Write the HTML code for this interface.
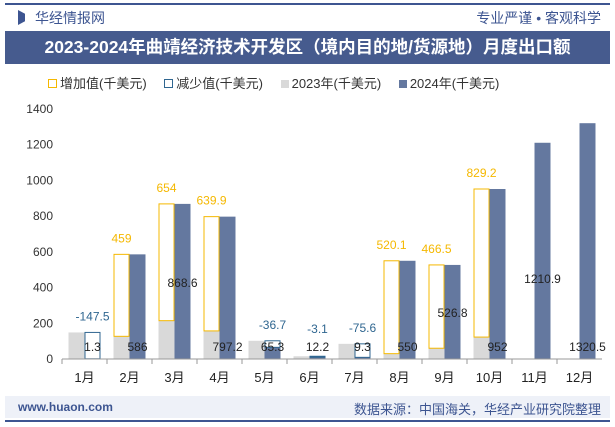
<!DOCTYPE html>
<html><head><meta charset="utf-8"><style>
body{margin:0;width:615px;height:427px;overflow:hidden;background:#fff;font-family:"Liberation Sans","Noto Sans CJK SC",sans-serif;position:relative}
.t{position:absolute;white-space:nowrap}
</style></head><body>
<div style="position:absolute;left:5px;top:3px;width:605px;height:2px;background:#3d5591"></div>
<div style="position:absolute;left:18px;top:10px;width:7px;height:15px;background:#3d5591;clip-path:polygon(0 0,100% 25%,100% 75%,0 100%)"></div>
<div class="t" style="left:35px;top:8px;font-size:14px;color:#3d5591">华经情报网</div>
<div class="t" style="right:14px;top:8px;font-size:14px;color:#3d5591">专业严谨 • 客观科学</div>
<div style="position:absolute;left:5px;top:31px;height:33px;width:605px;background:#465b8e"></div>
<div class="t" style="left:5px;top:31px;width:605px;height:33px;line-height:33px;text-align:center;color:#fff;font-weight:bold;font-size:17.5px">2023-2024年曲靖经济技术开发区（境内目的地/货源地）月度出口额</div>

<div class="t" style="left:48px;top:73px;font-size:13px;color:#333">
<span><span style="display:inline-block;width:7px;height:7px;border:1px solid #f5b800;margin-right:3px"></span>增加值(千美元)</span>
<span style="margin-left:14px"><span style="display:inline-block;width:7px;height:7px;border:1px solid #2f6690;margin-right:3px"></span>减少值(千美元)</span>
<span style="margin-left:14px"><span style="display:inline-block;width:8px;height:8px;background:#d9d9d9;margin-right:3px"></span>2023年(千美元)</span>
<span style="margin-left:14px"><span style="display:inline-block;width:8px;height:8px;background:#64789f;margin-right:3px"></span>2024年(千美元)</span>
</div>

<svg id="chart" width="615" height="427" style="position:absolute;left:0;top:0" font-family="Liberation Sans, Noto Sans CJK SC, sans-serif"></svg>

<div style="position:absolute;left:5px;top:396px;width:605px;height:22px;background:#eef1f8"></div>
<div class="t" style="left:18px;top:400px;font-size:12px;color:#3d5591;font-weight:bold">www.huaon.com</div>
<div class="t" style="right:14px;top:399px;font-size:13px;color:#3d5591">数据来源：中国海关，华经产业研究院整理</div>
<div style="position:absolute;left:5px;top:420px;width:605px;height:2px;background:#3d5591"></div>

<script>
const months=["1月","2月","3月","4月","5月","6月","7月","8月","9月","10月","11月","12月"];
const v2023=[148.8,127,214.6,157.3,102,15.3,84.9,29.9,60.3,122.8,0,0];
const v2024=[1.3,586,868.6,797.2,65.3,12.2,9.3,550,526.8,952,1210.9,1320.5];
const changes=[-147.5,459,654,639.9,-36.7,-3.1,-75.6,520.1,466.5,829.2,null,null];
const yTicks=[0,200,400,600,800,1000,1200,1400];
const labelY=[347,347,283,347,347,347,347,347,313,347,279,347];
const svg=document.getElementById('chart');
const NS='http://www.w3.org/2000/svg';
const x0=62,x1=602,y0=359,y1=109,ymax=1400;
const bw=(x1-x0)/months.length;
const Y=v=>y0-(v/ymax)*(y0-y1);
const C=i=>x0+bw*(i+0.5);
function mk(tag,attrs,txt){const e=document.createElementNS(NS,tag);for(const k in attrs)e.setAttribute(k,attrs[k]);if(txt!=null)e.textContent=txt;svg.appendChild(e);return e;}
yTicks.forEach(t=>{
  const e=mk('text',{x:53,y:Y(t)+4,'text-anchor':'end','font-size':12,fill:'#333'},t);
  
  
});
months.forEach((m,i)=>{
  const c=C(i);
  const g=mk('rect',{x:c-16,y:Y(v2023[i]),width:16,height:y0-Y(v2023[i]),fill:'#d9d9d9'});
  
  
  const b=mk('rect',{x:c,y:Y(v2024[i]),width:16,height:y0-Y(v2024[i]),fill:'#64789f'});
  
  
  const ch=changes[i];
  if(ch!=null){
    const inc=ch>=0;
    const top=Math.max(v2023[i],v2024[i]),bot=Math.min(v2023[i],v2024[i]);
    const bx=inc?c-16:c;
    const r=mk('rect',{x:bx+0.5,y:Y(top),width:15,height:Math.max(1,Y(bot)-Y(top)),fill:'none',stroke:inc?'#f5b800':'#2f6690','stroke-width':1});
    
    
    const l=mk('text',{x:bx+8,y:Math.min(Y(top)-12,333),'text-anchor':'middle','font-size':12,fill:inc?'#f5b800':'#2f6690'},ch);
    
    
  }
  const vl=mk('text',{x:c+8,y:labelY[i]+4,'text-anchor':'middle','font-size':12,fill:'#222'},v2024[i]);
  
  
  const xl=mk('text',{x:c,y:382,'text-anchor':'middle','font-size':13,fill:'#222'},m);
  
  
  const tk=mk('line',{x1:x0+bw*i,x2:x0+bw*i,y1:y0,y2:y0+5,stroke:'#999'});
  
  
});
const ax=mk('line',{x1:x0,x2:x1,y1:y0,y2:y0,stroke:'#999'});


</script>
</body></html>
